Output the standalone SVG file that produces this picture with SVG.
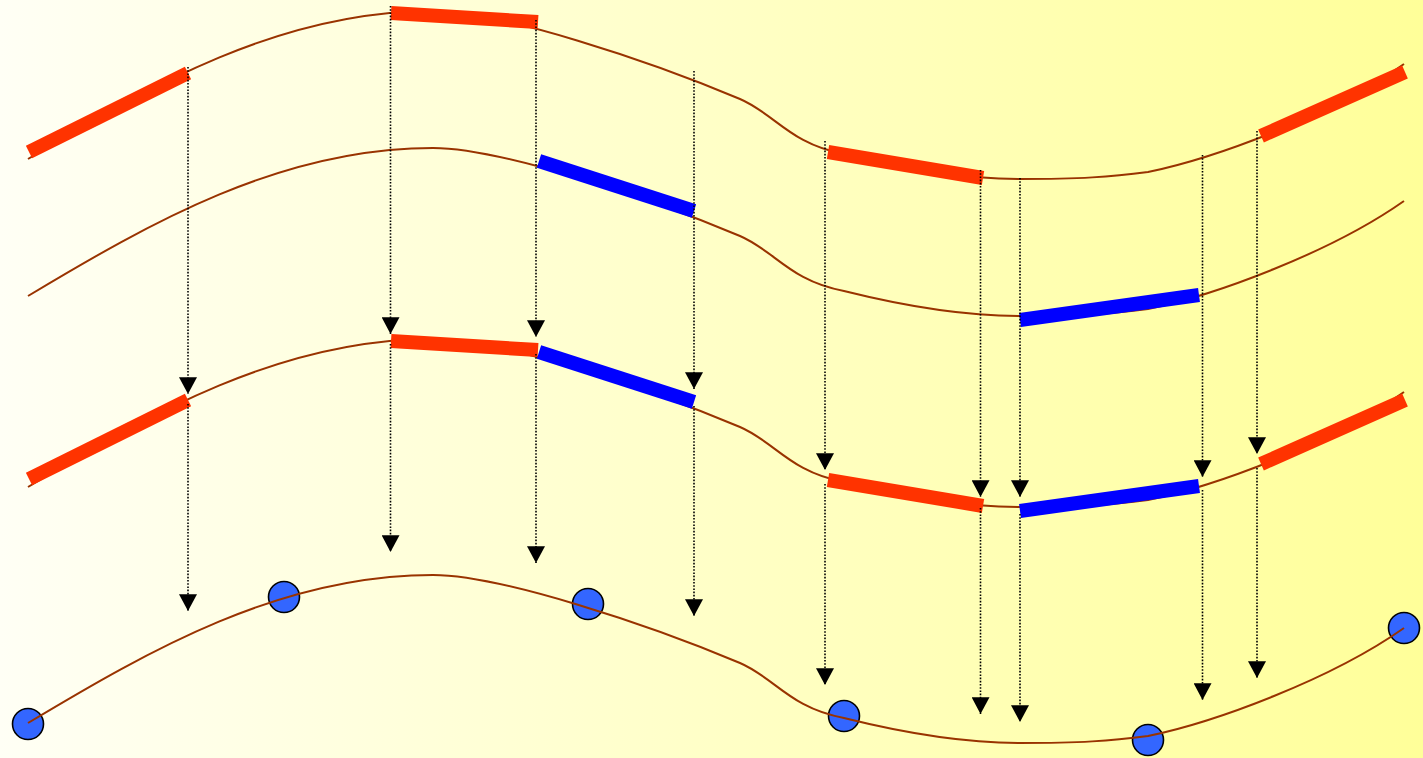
<svg xmlns="http://www.w3.org/2000/svg" width="1423" height="758" viewBox="0 0 1423 758">
<defs>
<linearGradient id="bg" x1="0" y1="0" x2="1" y2="0">
<stop offset="0" stop-color="#fffff5"/>
<stop offset="1" stop-color="#ffff99"/>
</linearGradient>
<path id="curve" d="M28,723 C150,650 280,575 433,575 C500,575 650,625 740,663 C775,678 790,708 844,718 C900,732 960,743 1020,743 C1080,743 1110,741 1148,736 C1215,722 1330,680 1404,628"/>
<marker id="arr" markerUnits="userSpaceOnUse" markerWidth="18" markerHeight="18" viewBox="0 0 16 15" refX="8" refY="15" orient="0">
<path d="M0,0 L16,0 L8,15 Z" fill="#000"/>
</marker>
</defs>
<style>
.crv{fill:none;stroke:#993300;stroke-width:2}
.red{stroke:#ff3300;stroke-width:14;stroke-linecap:butt}
.blue{stroke:#0000ff;stroke-width:14;stroke-linecap:butt}
.dot{fill:#3366ff;stroke:#000;stroke-width:1.6}
.con{stroke:#000;stroke-width:1.6;stroke-dasharray:1.6 1.6;fill:none;marker-end:url(#arr)}
</style>
<rect width="1423" height="758" fill="url(#bg)"/>

<g id="curve1">
<use href="#curve" class="crv" transform="translate(0,-564)"/>
<line class="red" x1="29" y1="152" x2="188" y2="73"/>
<line class="red" x1="391" y1="13" x2="538" y2="22"/>
<line class="red" x1="828" y1="152" x2="983" y2="178"/>
<line class="red" x1="1261" y1="136" x2="1405" y2="72"/>
</g>

<g id="curve2">
<use href="#curve" class="crv" transform="translate(0,-427)"/>
<line class="blue" x1="539" y1="161" x2="694" y2="211"/>
<line class="blue" x1="1020" y1="320" x2="1199" y2="295"/>
</g>

<g id="curve3">
<use href="#curve" class="crv" transform="translate(0,-236)"/>
<line class="red" x1="29" y1="479" x2="188" y2="400"/>
<line class="red" x1="391" y1="341" x2="538" y2="350"/>
<line class="blue" x1="539" y1="352" x2="694" y2="402"/>
<line class="red" x1="828" y1="480" x2="983" y2="506"/>
<line class="blue" x1="1020" y1="511" x2="1199" y2="486"/>
<line class="red" x1="1261" y1="464" x2="1405" y2="400"/>
</g>

<g id="curve4">
<circle class="dot" cx="28" cy="724" r="15.5"/>
<circle class="dot" cx="284" cy="597" r="15.5"/>
<circle class="dot" cx="588" cy="604" r="15.5"/>
<circle class="dot" cx="844" cy="716" r="15.5"/>
<circle class="dot" cx="1148" cy="740" r="15.5"/>
<circle class="dot" cx="1404" cy="628" r="15.5"/>
<use href="#curve" class="crv"/>
</g>

<g id="connectors">
<line class="con" x1="188" y1="67" x2="188" y2="394"/>
<line class="con" x1="188" y1="404" x2="188" y2="611"/>
<line class="con" x1="390.5" y1="6" x2="390.5" y2="334"/>
<line class="con" x1="390.5" y1="344" x2="390.5" y2="552"/>
<line class="con" x1="536" y1="20" x2="536" y2="337"/>
<line class="con" x1="536" y1="354" x2="536" y2="563"/>
<line class="con" x1="694" y1="71" x2="694" y2="389"/>
<line class="con" x1="694" y1="406" x2="694" y2="616"/>
<line class="con" x1="825" y1="141" x2="825" y2="470"/>
<line class="con" x1="825" y1="484" x2="825" y2="685"/>
<line class="con" x1="980.5" y1="170" x2="980.5" y2="497"/>
<line class="con" x1="980.5" y1="508" x2="980.5" y2="714"/>
<line class="con" x1="1020" y1="178" x2="1020" y2="497"/>
<line class="con" x1="1020" y1="514" x2="1020" y2="722"/>
<line class="con" x1="1202.5" y1="155" x2="1202.5" y2="477"/>
<line class="con" x1="1202.5" y1="490" x2="1202.5" y2="700"/>
<line class="con" x1="1257" y1="131" x2="1257" y2="454"/>
<line class="con" x1="1257" y1="468" x2="1257" y2="678"/>
</g>
</svg>
